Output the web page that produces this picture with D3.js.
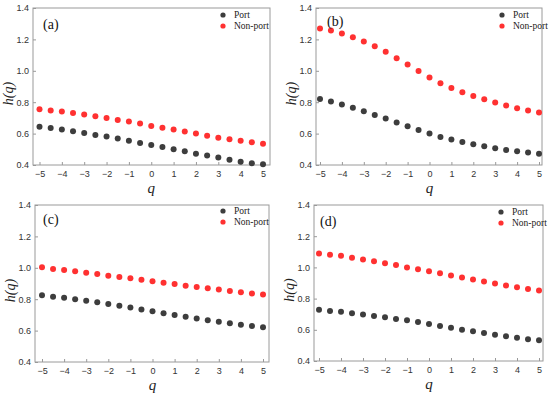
<!DOCTYPE html>
<html lang="en">
<head>
<meta charset="utf-8">
<title>h(q) port vs non-port</title>
<script src="https://cdn.jsdelivr.net/npm/d3@7"></script>
<style>
body { margin: 0; background: #fff; }
.tick text { font-family: Arial, "Liberation Sans", sans-serif; font-size: 9px; fill: #333; }
.tick line { stroke: #999; }
</style>
</head>
<body>
<script>

// q values (shared x for every panel)
var qValues = [-5, -4.5, -4, -3.5, -3, -2.5, -2, -1.5, -1, -0.5, 0, 0.5, 1, 1.5, 2, 2.5, 3, 3.5, 4, 4.5, 5];
var xTicks = [-5, -4, -3, -2, -1, 0, 1, 2, 3, 4, 5];
var yTicks = [0.4, 0.6, 0.8, 1.0, 1.2, 1.4];
var panelNames = ["(a)", "(b)", "(c)", "(d)"];
var seriesNames = ["Port", "Non-port"];

// h(q)
var portA = [0.643, 0.636, 0.626, 0.615, 0.604, 0.591, 0.581, 0.568, 0.555, 0.540, 0.528, 0.515, 0.500, 0.487, 0.472, 0.460, 0.447, 0.434, 0.421, 0.411, 0.404];
var nonPortA = [0.755, 0.747, 0.740, 0.732, 0.721, 0.711, 0.700, 0.687, 0.677, 0.664, 0.649, 0.638, 0.626, 0.613, 0.600, 0.587, 0.574, 0.564, 0.555, 0.545, 0.536];

var portB = [0.821, 0.804, 0.785, 0.764, 0.743, 0.719, 0.696, 0.670, 0.647, 0.623, 0.600, 0.579, 0.562, 0.547, 0.532, 0.519, 0.506, 0.496, 0.487, 0.479, 0.472];
var nonPortB = [1.270, 1.257, 1.238, 1.214, 1.187, 1.157, 1.121, 1.080, 1.040, 0.998, 0.958, 0.921, 0.890, 0.864, 0.840, 0.819, 0.798, 0.779, 0.762, 0.747, 0.734];

var portC = [0.825, 0.816, 0.810, 0.800, 0.790, 0.780, 0.770, 0.758, 0.747, 0.735, 0.723, 0.711, 0.700, 0.689, 0.677, 0.666, 0.656, 0.647, 0.638, 0.630, 0.622];
var nonPortC = [1.003, 0.993, 0.986, 0.978, 0.969, 0.961, 0.950, 0.941, 0.933, 0.924, 0.914, 0.905, 0.897, 0.886, 0.878, 0.869, 0.861, 0.852, 0.844, 0.836, 0.830];

var portD = [0.728, 0.721, 0.715, 0.706, 0.698, 0.689, 0.681, 0.670, 0.662, 0.650, 0.637, 0.625, 0.613, 0.601, 0.590, 0.579, 0.568, 0.558, 0.549, 0.540, 0.533];
var nonPortD = [1.089, 1.081, 1.074, 1.062, 1.051, 1.040, 1.026, 1.015, 1.000, 0.988, 0.975, 0.962, 0.948, 0.935, 0.922, 0.909, 0.897, 0.884, 0.873, 0.862, 0.852];

var portSeries = [portA, portB, portC, portD];
var nonPortSeries = [nonPortA, nonPortB, nonPortC, nonPortD];

var colors = ["#3d3d3d", "#ff3131"];

// where each panel sits on the page
var boxes = [
  {left: 33, right: 270, top: 8, bottom: 165, x0: 39.5, x1: 263, labX: 43, labY: 29, legX: 223, legY: 15},
  {left: 316, right: 542, top: 8, bottom: 165, x0: 320, x1: 539, labX: 327, labY: 26, legX: 502, legY: 15},
  {left: 35, right: 269, top: 205, bottom: 362, x0: 42, x1: 263, labX: 43, labY: 224, legX: 223, legY: 211},
  {left: 314, right: 543, top: 205, bottom: 361, x0: 319, x1: 539, labX: 320, labY: 226, legX: 501, legY: 212}
];

var svg = d3.select("body").append("svg")
  .attr("width", 550)
  .attr("height", 396);

boxes.forEach(function(b, i) {

  var x = d3.scaleLinear().domain([-5, 5]).range([b.x0, b.x1]);
  var y = d3.scaleLinear().domain([0.4, 1.4]).range([b.bottom, b.top]);

  var g = svg.append("g");

  // bottom axis, ticks pointing in
  g.append("g")
    .attr("transform", "translate(0," + b.bottom + ")")
    .call(d3.axisBottom(x).tickValues(xTicks).tickSizeInner(-3).tickSizeOuter(0).tickPadding(6)
      .tickFormat(function(d) { return d < 0 ? "\u2212" + Math.abs(d) : d; }))
    .call(function(a) { a.select(".domain").remove(); });

  // left axis
  g.append("g")
    .attr("transform", "translate(" + b.left + ",0)")
    .call(d3.axisLeft(y).tickValues(yTicks).tickSizeInner(-3).tickSizeOuter(0).tickPadding(4)
      .tickFormat(d3.format(".1f")))
    .call(function(a) { a.select(".domain").remove(); });

  // frame
  g.append("rect")
    .attr("x", b.left)
    .attr("y", b.top)
    .attr("width", b.right - b.left)
    .attr("height", b.bottom - b.top)
    .attr("fill", "none")
    .attr("stroke", "#9a9a9a")
    .attr("stroke-width", 1);

  // points
  [portSeries[i], nonPortSeries[i]].forEach(function(vals, s) {
    g.selectAll(".pt" + s)
      .data(vals)
      .enter().append("circle")
      .attr("class", "pt" + s)
      .attr("cx", function(d, k) { return x(qValues[k]); })
      .attr("cy", function(d) { return y(d); })
      .attr("r", 3)
      .attr("fill", colors[s]);
  });

  // panel letter
  g.append("text")
    .attr("x", b.labX)
    .attr("y", b.labY)
    .attr("font-family", "'Liberation Serif', 'Times New Roman', serif")
    .attr("font-size", "14px")
    .attr("fill", "#111")
    .text(panelNames[i]);

  // legend
  seriesNames.forEach(function(name, s) {
    g.append("circle")
      .attr("cx", b.legX)
      .attr("cy", b.legY + s * 11)
      .attr("r", 2.6)
      .attr("fill", colors[s]);
    g.append("text")
      .attr("x", b.legX + 11)
      .attr("y", b.legY + s * 11 + 3)
      .attr("font-family", "'Liberation Serif', 'Times New Roman', serif")
      .attr("font-size", "9.5px")
      .attr("fill", "#222")
      .text(name);
  });

  // axis titles
  g.append("text")
    .attr("transform", "translate(" + (b.left - 20) + "," + ((b.top + b.bottom) / 2 + 7) + ") rotate(-90)")
    .attr("text-anchor", "middle")
    .attr("font-family", "'Liberation Serif', 'Times New Roman', serif")
    .attr("font-style", "italic")
    .attr("font-size", "14px")
    .attr("fill", "#222")
    .text("h(q)");

  g.append("text")
    .attr("x", (b.x0 + b.x1) / 2)
    .attr("y", b.bottom + 28)
    .attr("text-anchor", "middle")
    .attr("font-family", "'Liberation Serif', 'Times New Roman', serif")
    .attr("font-style", "italic")
    .attr("font-size", "15px")
    .attr("fill", "#222")
    .text("q");
});

</script>
</body>
</html>
